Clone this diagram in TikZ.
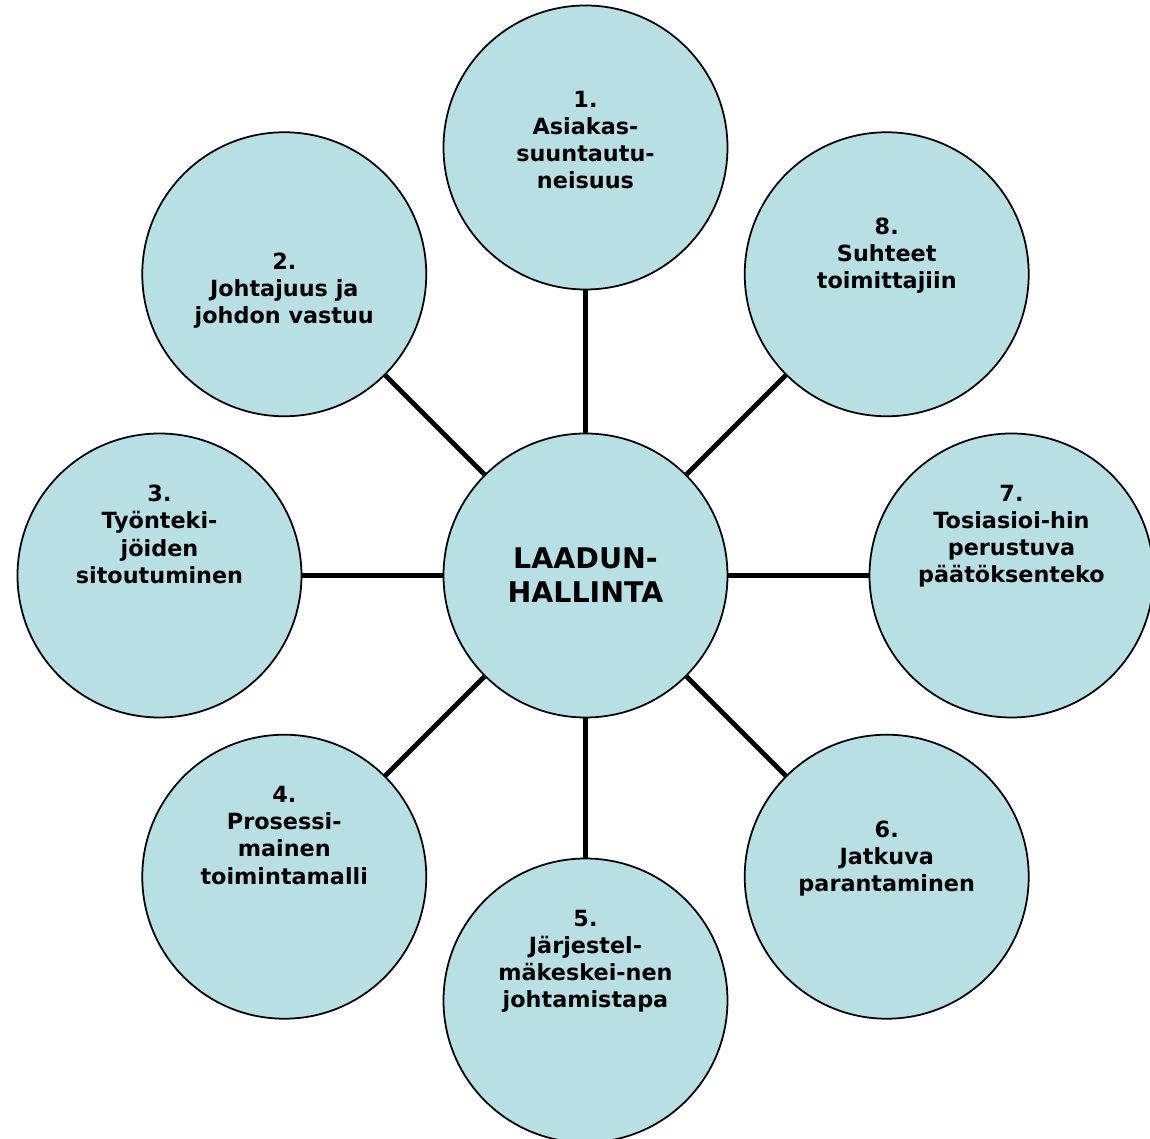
\documentclass[tikz,border=0pt]{standalone}
\usepackage{fontspec}
\setmainfont{DejaVu Sans}
\definecolor{laatu}{RGB}{184,223,227}
\tikzset{
  pallo/.style={circle,draw,line width=1pt,fill=laatu,minimum size=5.68cm,inner sep=0pt},
  teksti/.style={anchor=north,align=center,inner sep=0pt,font=\bfseries\fontsize{12.7}{15.4}\selectfont},
  pinna/.style={line width=2.8pt}
}
\begin{document}
\begin{tikzpicture}
  \useasboundingbox (-11.71,-11.27) rectangle (11.29,11.51);
  \node[pallo,align=center,font=\bfseries\fontsize{16.2}{19.4}\selectfont] (keski) at (0,0) {LAADUN-\\HALLINTA};
  \node[pallo] (p1) at (90:8.56) {};
  \node[pallo] (p2) at (135:8.52) {};
  \node[pallo] (p3) at (180:8.52) {};
  \node[pallo] (p4) at (-135:8.52) {};
  \node[pallo] (p5) at (-90:8.5) {};
  \node[pallo] (p6) at (-45:8.52) {};
  \node[pallo] (p7) at (0:8.52) {};
  \node[pallo] (p8) at (45:8.52) {};
  \foreach \i in {1,...,8}
    \draw[pinna] (keski) -- (p\i);
  % tekstit
  \node[teksti] (t1) at ([yshift=1.13cm]p1.center) {1.\\Asiakas-\\suuntautu-\\neisuus};
  \node[teksti] (t2) at ([yshift=0.43cm]p2.center) {2.\\Johtajuus ja\\johdon vastuu};
  \node[teksti] (t3) at ([yshift=1.81cm]p3.center) {3.\\Työnteki-\\jöiden\\sitoutuminen};
  \node[teksti] (t4) at ([yshift=1.81cm]p4.center) {4.\\Prosessi-\\mainen\\toimintamalli};
  \node[teksti] (t5) at ([yshift=1.81cm]p5.center) {5.\\Järjestel-\\mäkeskei-nen\\johtamistapa};
  \node[teksti] (t6) at ([yshift=1.13cm]p6.center) {6.\\Jatkuva\\parantaminen};
  \node[teksti] (t7) at ([yshift=1.81cm]p7.center) {7.\\Tosiasioi-hin\\perustuva\\päätöksenteko};
  \node[teksti] (t8) at ([yshift=1.13cm]p8.center) {8.\\Suhteet\\toimittajiin};
\end{tikzpicture}
\end{document}
